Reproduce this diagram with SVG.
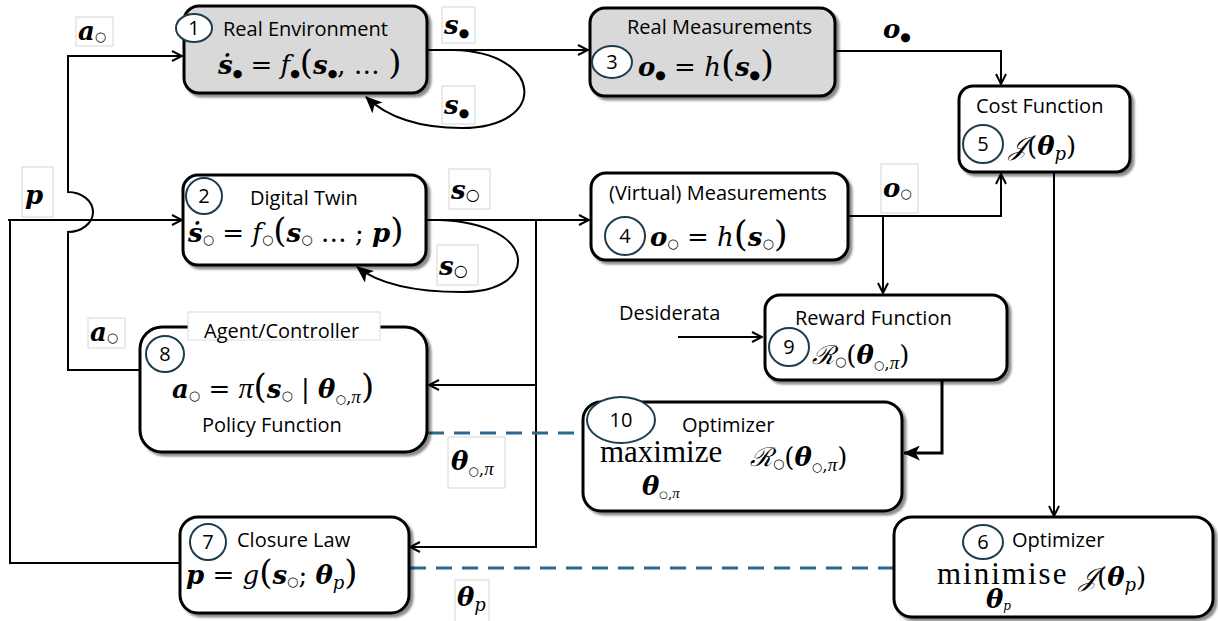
<svg xmlns="http://www.w3.org/2000/svg" width="1218" height="621" viewBox="0 0 1218 621">
  <style>
    .box { fill: #fff; stroke: #000; stroke-width: 3; filter: url(#sh); }
    .gray { fill: #d9d9d9; }
    .num { fill: #fff; stroke: #1d3c4c; stroke-width: 2; }
    .numt { font-family: "Open Sans", sans-serif; font-size: 20px; text-anchor: middle; }
    .lbl { font-family: "Open Sans", sans-serif; font-size: 20px; }
    .m { font-family: "DejaVu Serif", "Liberation Serif", serif; font-size: 26px; }
    .op { font-family: "Liberation Serif", "DejaVu Serif", serif; font-size: 31px; }
    .v { font-weight: bold; font-style: italic; }
    .i { font-style: italic; }
    .pi { font-family: "Liberation Serif", serif; font-style: italic; }
    .dot { font-family: "DejaVu Sans", sans-serif; }
    .tag { fill: #fff; stroke: #d6d6d6; stroke-width: 1; }
    .wire { fill: none; stroke: #000; stroke-width: 2; }
    .dash { fill: none; stroke: #2b6a8c; stroke-width: 3; stroke-dasharray: 16 10; }
  </style>
  <defs>
    <filter id="sh" x="-5%" y="-5%" width="115%" height="125%">
      <feDropShadow dx="3" dy="3" stdDeviation="1" flood-color="#000" flood-opacity="0.45"/>
    </filter>
    <marker id="open" viewBox="0 0 12 12" refX="11" refY="6" markerWidth="12" markerHeight="12" markerUnits="userSpaceOnUse" orient="auto">
      <path d="M1,1 L11,6 L1,11" fill="none" stroke="#000" stroke-width="2"/>
    </marker>
    <marker id="solid" viewBox="0 0 16 14" refX="15" refY="7" markerWidth="17" markerHeight="15" markerUnits="userSpaceOnUse" orient="auto">
      <path d="M0,0 L16,7 L0,14 L4,7 Z" fill="#000"/>
    </marker>
  </defs>
  <rect width="1218" height="621" fill="#fff"/>

  <!-- connectors -->
  <g id="connectors">
    <path class="wire" d="M140,370 H68 V232 A25 20 0 0 0 68,192 V56 H182" marker-end="url(#open)"/>
    <path class="wire" d="M180,563 H10 V220 H8 M10,220 H182" marker-end="url(#open)"/>
    <path class="wire" d="M427,50 H588" marker-end="url(#open)"/>
    <path class="wire" d="M453,50 C545,52 548,128 462,128 C420,128 388,118 366,97" marker-end="url(#solid)"/>
    <path class="wire" d="M835,51 H1001 V84" marker-end="url(#open)"/>
    <path class="wire" d="M426,220 H589" marker-end="url(#open)"/>
    <path class="wire" d="M440,220 C540,224 540,292 462,292 C420,292 380,285 357,267" marker-end="url(#solid)"/>
    <path class="wire" d="M536,220 V547 H410" marker-end="url(#open)"/>
    <path class="wire" d="M536,385 H429" marker-end="url(#open)"/>
    <path class="wire" d="M848,216 H1001 V174" marker-end="url(#open)"/>
    <path class="wire" d="M883,216 V293" marker-end="url(#open)"/>
    <path class="wire" d="M678,337 H762" marker-end="url(#open)"/>
    <path class="wire" style="stroke-width:3" d="M942,380 V453 H904" marker-end="url(#solid)"/>
    <path class="wire" d="M1054,172 V516" marker-end="url(#open)"/>
    <path class="dash" d="M428,433 H583"/>
    <path class="dash" d="M410,568 H893"/>

    <!-- edge labels -->
    <rect class="tag" x="76" y="17" width="37" height="29"/>
    <text class="m" x="78" y="40" font-size="28"><tspan class="v">a</tspan><tspan class="dot" font-size="13" dy="1">○</tspan></text>
    <rect class="tag" x="442" y="7" width="33" height="36"/>
    <text class="m" x="444" y="34" font-size="30"><tspan class="v">s</tspan><tspan class="dot" font-size="12" dy="3">●</tspan></text>
    <rect class="tag" x="442" y="86" width="33" height="38"/>
    <text class="m" x="444" y="114" font-size="30"><tspan class="v">s</tspan><tspan class="dot" font-size="12" dy="3">●</tspan></text>
    <text class="m" x="883" y="38" font-size="28"><tspan class="v">o</tspan><tspan class="dot" font-size="12" dy="3">●</tspan></text>
    <rect class="tag" x="22" y="167" width="31" height="50"/>
    <text class="m" x="25" y="204" font-size="30"><tspan class="v">p</tspan></text>
    <rect class="tag" x="449" y="169" width="41" height="40"/>
    <text class="m" x="451" y="199" font-size="34"><tspan class="v">s</tspan><tspan class="dot" font-size="16" dy="1">○</tspan></text>
    <rect class="tag" x="437" y="245" width="41" height="40"/>
    <text class="m" x="439" y="275" font-size="34"><tspan class="v">s</tspan><tspan class="dot" font-size="16" dy="1">○</tspan></text>
    <rect class="tag" x="881" y="164" width="37" height="49"/>
    <text class="m" x="883" y="197" font-size="28"><tspan class="v">o</tspan><tspan class="dot" font-size="13" dy="1">○</tspan></text>
    <rect class="tag" x="88" y="318" width="37" height="30"/>
    <text class="m" x="90" y="341" font-size="28"><tspan class="v">a</tspan><tspan class="dot" font-size="13" dy="1">○</tspan></text>
    <rect class="tag" x="448" y="437" width="57" height="51"/>
    <text class="m" x="451" y="470" font-size="30"><tspan class="v">θ</tspan><tspan class="dot" font-size="12" dy="5">○</tspan><tspan font-size="17">,</tspan><tspan class="pi" font-size="19">π</tspan></text>
    <rect class="tag" x="455" y="580" width="34" height="44"/>
    <text class="m" x="457" y="606" font-size="28"><tspan class="v">θ</tspan><tspan font-size="18" dy="5" class="i">p</tspan></text>
    <text class="lbl" x="619" y="320">Desiderata</text>
  </g>

  <!-- 1 Real Environment -->
  <g id="n1">
    <rect class="box gray" x="184" y="6" width="243" height="87" rx="15"/>
    <ellipse class="num" cx="194" cy="28" rx="18" ry="14"/>
    <text class="numt" x="194" y="35">1</text>
    <text class="lbl" x="223" y="36">Real Environment</text>
    <text class="m" x="218" y="74"><tspan class="v">ṡ</tspan><tspan class="dot" font-size="11" dy="3">●</tspan><tspan dy="-3"> = </tspan><tspan class="i">f</tspan><tspan class="dot" font-size="11" dy="3">●</tspan><tspan dy="-3" font-size="34">(</tspan><tspan class="v">s</tspan><tspan class="dot" font-size="11" dy="3">●</tspan><tspan dy="-3">, … </tspan><tspan font-size="34">)</tspan></text>
  </g>

  <!-- 3 Real Measurements -->
  <g id="n3">
    <rect class="box gray" x="590" y="8" width="245" height="88" rx="15"/>
    <ellipse class="num" cx="612" cy="62" rx="20" ry="16"/>
    <text class="numt" x="612" y="69">3</text>
    <text class="lbl" x="627" y="34">Real Measurements</text>
    <text class="m" x="638" y="76" font-size="28"><tspan class="v">o</tspan><tspan class="dot" font-size="12" dy="3">●</tspan><tspan dy="-3"> = </tspan><tspan class="i">h</tspan><tspan font-size="36">(</tspan><tspan class="v">s</tspan><tspan class="dot" font-size="12" dy="3">●</tspan><tspan dy="-3" font-size="36">)</tspan></text>
  </g>

  <!-- 5 Cost Function -->
  <g id="n5">
    <rect class="box" x="959" y="86" width="171" height="86" rx="14"/>
    <ellipse class="num" cx="983" cy="144" rx="20" ry="19"/>
    <text class="numt" x="983" y="151">5</text>
    <text class="lbl" x="976" y="113">Cost Function</text>
    <text class="m" x="1009" y="155" font-size="28"><tspan class="i">𝒥</tspan>(<tspan class="v">θ</tspan><tspan font-size="18" dy="5" class="i">p</tspan><tspan dy="-5">)</tspan></text>
  </g>

  <!-- 2 Digital Twin -->
  <g id="n2">
    <rect class="box" x="183" y="175" width="243" height="90" rx="15"/>
    <ellipse class="num" cx="204" cy="196" rx="18" ry="18"/>
    <text class="numt" x="204" y="203">2</text>
    <text class="lbl" x="250" y="205">Digital Twin</text>
    <text class="m" x="188" y="242"><tspan class="v">ṡ</tspan><tspan class="dot" font-size="13" dy="2">○</tspan><tspan dy="-2"> = </tspan><tspan class="i">f</tspan><tspan class="dot" font-size="13" dy="2">○</tspan><tspan dy="-2" font-size="34">(</tspan><tspan class="v">s</tspan><tspan class="dot" font-size="13" dy="2">○</tspan><tspan dy="-2"> … ; </tspan><tspan class="v">p</tspan><tspan font-size="34">)</tspan></text>
  </g>

  <!-- 4 (Virtual) Measurements -->
  <g id="n4">
    <rect class="box" x="591" y="173" width="257" height="87" rx="15"/>
    <ellipse class="num" cx="625" cy="236" rx="20" ry="19"/>
    <text class="numt" x="625" y="243">4</text>
    <text class="lbl" x="609" y="200">(Virtual) Measurements</text>
    <text class="m" x="650" y="246" font-size="28"><tspan class="v">o</tspan><tspan class="dot" font-size="13" dy="2">○</tspan><tspan dy="-2"> = </tspan><tspan class="i">h</tspan><tspan font-size="36">(</tspan><tspan class="v">s</tspan><tspan class="dot" font-size="13" dy="2">○</tspan><tspan dy="-2" font-size="36">)</tspan></text>
  </g>

  <!-- 9 Reward Function -->
  <g id="n9">
    <rect class="box" x="765" y="295" width="242" height="85" rx="15"/>
    <ellipse class="num" cx="789" cy="347" rx="20" ry="19"/>
    <text class="numt" x="789" y="354">9</text>
    <text class="lbl" x="795" y="325">Reward Function</text>
    <text class="m" x="812" y="364" font-size="28"><tspan class="i">ℛ</tspan><tspan class="dot" font-size="13" dy="2">○</tspan><tspan dy="-2">(</tspan><tspan class="v">θ</tspan><tspan class="dot" font-size="12" dy="5">○</tspan><tspan font-size="17">,</tspan><tspan class="pi" font-size="19">π</tspan><tspan dy="-5">)</tspan></text>
  </g>

  <!-- 8 Agent/Controller -->
  <g id="n8">
    <rect class="box" x="140" y="327" width="287" height="125" rx="22"/>
    <rect x="188" y="312" width="192" height="28" fill="#fff" stroke="#dcdcdc" stroke-width="1"/>
    <text class="lbl" x="204" y="338">Agent/Controller</text>
    <ellipse class="num" cx="165" cy="354" rx="19" ry="18"/>
    <text class="numt" x="165" y="361">8</text>
    <text class="m" x="172" y="398"><tspan class="v">a</tspan><tspan class="dot" font-size="13" dy="2">○</tspan><tspan dy="-2"> = </tspan><tspan class="pi" font-size="30">π</tspan><tspan font-size="34">(</tspan><tspan class="v">s</tspan><tspan class="dot" font-size="13" dy="2">○</tspan><tspan dy="-2"> | </tspan><tspan class="v">θ</tspan><tspan class="dot" font-size="12" dy="5">○</tspan><tspan font-size="17">,</tspan><tspan class="pi" font-size="19">π</tspan><tspan dy="-5" font-size="34">)</tspan></text>
    <text class="lbl" x="202" y="432">Policy Function</text>
  </g>

  <!-- 10 Optimizer (maximize) -->
  <g id="n10">
    <rect class="box" x="583" y="402" width="319" height="109" rx="18"/>
    <ellipse class="num" cx="621" cy="420" rx="34" ry="23"/>
    <text class="numt" x="621" y="427">10</text>
    <text class="lbl" x="682" y="432">Optimizer</text>
    <text class="op" x="600" y="462">maximize</text>
    <text class="m" x="642" y="495" font-size="18"><tspan class="v">θ</tspan><tspan class="dot" font-size="10" dy="3">○</tspan><tspan font-size="13">,</tspan><tspan class="pi" font-size="15">π</tspan></text>
    <text class="m" x="750" y="466" font-size="28"><tspan class="i">ℛ</tspan><tspan class="dot" font-size="13" dy="2">○</tspan><tspan dy="-2">(</tspan><tspan class="v">θ</tspan><tspan class="dot" font-size="12" dy="5">○</tspan><tspan font-size="17">,</tspan><tspan class="pi" font-size="19">π</tspan><tspan dy="-5">)</tspan></text>
  </g>

  <!-- 7 Closure Law -->
  <g id="n7">
    <rect class="box" x="180" y="517" width="229" height="96" rx="18"/>
    <ellipse class="num" cx="208" cy="542" rx="18" ry="18"/>
    <text class="numt" x="208" y="549">7</text>
    <text class="lbl" x="237" y="547">Closure Law</text>
    <text class="m" x="186" y="584"><tspan class="v">p</tspan><tspan> = </tspan><tspan class="i">g</tspan><tspan font-size="34">(</tspan><tspan class="v">s</tspan><tspan class="dot" font-size="13" dy="2">○</tspan><tspan dy="-2">; </tspan><tspan class="v">θ</tspan><tspan font-size="18" dy="5" class="i">p</tspan><tspan dy="-5" font-size="34">)</tspan></text>
  </g>

  <!-- 6 Optimizer (minimise) -->
  <g id="n6">
    <rect class="box" x="894" y="517" width="319" height="100" rx="18"/>
    <ellipse class="num" cx="983" cy="542" rx="20" ry="17"/>
    <text class="numt" x="983" y="549">6</text>
    <text class="lbl" x="1012" y="547">Optimizer</text>
    <text class="op" x="937" y="584" font-size="28" letter-spacing="2">minimise</text>
    <text class="m" x="986" y="608" font-size="17"><tspan class="v">θ</tspan><tspan font-size="12" dy="2" class="i">p</tspan></text>
    <text class="m" x="1079" y="586" font-size="28"><tspan class="i">𝒥</tspan>(<tspan class="v">θ</tspan><tspan font-size="18" dy="5" class="i">p</tspan><tspan dy="-5">)</tspan></text>
  </g>
</svg>
